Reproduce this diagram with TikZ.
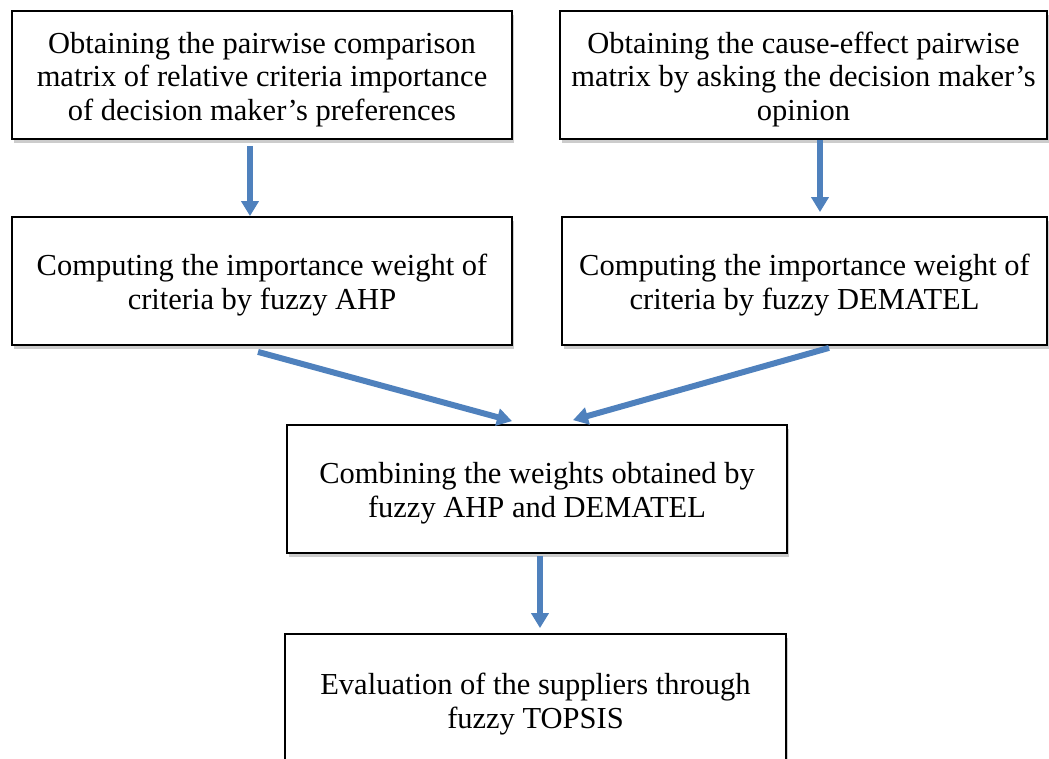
\documentclass[tikz,border=0pt]{standalone}
\usepackage{fontspec}
\setmainfont{Liberation Serif}
\usetikzlibrary{arrows.meta,shadows}
\definecolor{arrowblue}{HTML}{4F81BD}
\newcommand{\boxtopstrut}{\rule{0pt}{30pt}}
\begin{document}
\begin{tikzpicture}[x=1pt,y=-1pt,
  box/.style={draw=black,line width=1.8pt,fill=white,inner sep=0pt,
    align=center,font=\fontsize{30.5}{33.5}\selectfont,
    drop shadow={shadow xshift=2pt,shadow yshift=-4pt,opacity=0.2,fill=black}},
  arr/.style={draw=arrowblue,line width=6pt,-{Triangle[width=17pt,length=15pt]}}]
\useasboundingbox (0,0) rectangle (1049,758);
\clip (0,0) rectangle (1049,758);
\node[box,minimum width=500pt,minimum height=128pt] (b1) at (262,75)
  {\boxtopstrut Obtaining the pairwise comparison\\matrix of relative criteria importance\\of decision maker’s preferences};
\node[box,minimum width=487pt,minimum height=128pt] (b2) at (803.5,75)
  {\boxtopstrut Obtaining the cause-effect pairwise\\matrix by asking the decision maker’s\\opinion};
\node[box,minimum width=500pt,minimum height=128pt] (b3) at (262,281)
  {\boxtopstrut Computing the importance weight of\\criteria by fuzzy AHP};
\node[box,minimum width=485pt,minimum height=128pt] (b4) at (804.5,281)
  {\boxtopstrut Computing the importance weight of\\criteria by fuzzy DEMATEL};
\node[box,minimum width=500pt,minimum height=128pt] (b5) at (537,489)
  {\boxtopstrut Combining the weights obtained by\\fuzzy AHP and DEMATEL};
\node[box,minimum width=501pt,minimum height=132pt] (b6) at (535.5,700)
  {\boxtopstrut Evaluation of the suppliers through\\fuzzy TOPSIS};
\draw[arr] ([xshift=-12pt,yshift=-6pt]b1.south) -- ([xshift=-12pt]b3.north);
\draw[arr] ([xshift=16.5pt]b2.south) -- ([xshift=15.5pt,yshift=4pt]b4.north);
\draw[arr] ([xshift=-4pt,yshift=-6pt]b3.south) -- ([xshift=-25pt,yshift=3pt]b5.north);
\draw[arr] ([xshift=24.5pt,yshift=-2pt]b4.south) -- ([xshift=36pt,yshift=4pt]b5.north);
\draw[arr] ([xshift=3pt,yshift=-2pt]b5.south) -- ([xshift=4.5pt,yshift=5pt]b6.north);
\end{tikzpicture}
\end{document}
